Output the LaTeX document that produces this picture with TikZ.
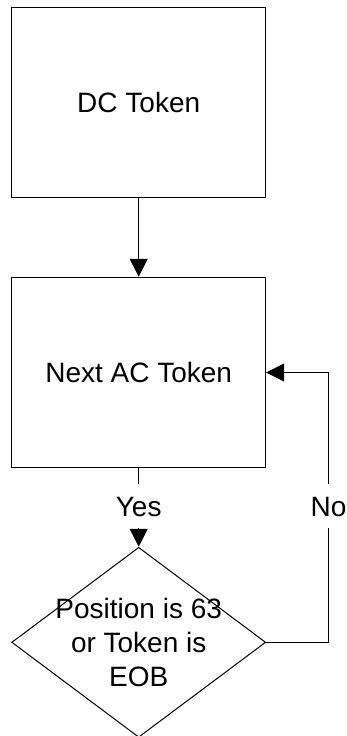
\documentclass[tikz,border=0pt]{standalone}
\usepackage{fontspec}
\setmainfont{Liberation Sans}
\usetikzlibrary{arrows.meta,shapes.geometric}
\begin{document}
\begin{tikzpicture}[x=1pt,y=-1pt,
  every node/.style={font=\fontsize{28}{34}\selectfont},
  stepbox/.style={draw, line width=1pt, minimum width=254pt, minimum height=190.5pt, inner sep=0pt},
  decision/.style={diamond, draw, line width=1pt, minimum width=254pt, minimum height=190pt, inner sep=0pt},
  branch/.style={inner sep=0pt, text height=20pt, text depth=0pt, minimum height=44pt},
  flow/.style={line width=1pt},
  tip/.style={-{Triangle[length=18pt,width=18pt]}}]
  \useasboundingbox (0,0) rectangle (347,736);

  % process boxes
  \node[stepbox] (dc) at (138.7,102.5) {DC Token};
  \node[stepbox] (ac) at (138.7,372.5) {Next AC Token};

  % decision diamond and its text
  \node[decision] (dec) at (138.7,642.3) {};
  \node[align=center, inner sep=0pt] (dectext) at (dec.center) {Position is 63\\or Token is\\EOB};

  % branch labels
  \node[branch] (yes) at (138.7,506) {Yes};
  \node[branch] (no) at (328.5,506) {No};

  % connectors
  \draw[flow, tip] (dc.south) -- (ac.north);
  \draw[flow] (ac.south) -- (yes.north);
  \draw[flow, tip] (yes.south) -- (dec.north);
  \draw[flow] (dec.east) -| (no.south);
  \draw[flow, tip] (no.north) |- (ac.east);
\end{tikzpicture}
\end{document}
